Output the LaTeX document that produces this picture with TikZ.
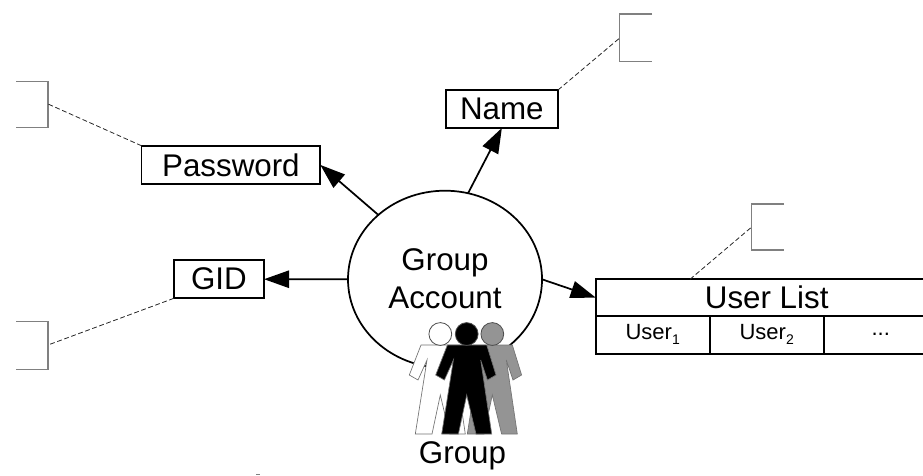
\documentclass[tikz,border=0pt]{standalone}
\usepackage{fontspec}
\setmainfont{Liberation Sans}
\usetikzlibrary{arrows.meta,shapes.geometric}
\newcommand{\bigtxt}{\fontsize{23.5}{28.5}\selectfont}
\newcommand{\smalltxt}{\fontsize{16.5}{20}\selectfont}
\newcommand{\subtxt}[1]{\raisebox{-0.22em}{\fontsize{10.5}{12}\selectfont #1}}
\tikzset{
  x=0.75pt,y=-0.75pt,
  box/.style={draw=black,line width=1.3pt,fill=white,inner sep=0pt,outer sep=0pt,font=\bigtxt,align=center},
  cell/.style={box,font=\smalltxt,minimum width=114*0.75pt,minimum height=37.7*0.75pt},
  flow/.style={draw=black,line width=1.3pt,-{Triangle[length=18.75pt,width=13pt]}},
  note/.style={draw=black!85,line width=0.6pt,dash pattern=on 3.6pt off 2pt},
  brk/.style={draw=black!50,line width=1pt},
  person/.pic={
    \path[draw=black!55,line width=0.5pt,fill=#1]
      (-19.3,11) -- (20,11) -- (29.3,41) -- (20.7,46) -- (14,26) -- (25,100) -- (9.3,100)
      -- (0,61) -- (-8.3,100) -- (-25,100) -- (-13.3,26) -- (-22.3,46) -- (-31,41) -- cycle;
    \path[draw=black!70,line width=0.6pt,fill=#1] (0,0) circle[radius=11.4];
  }
}
\begin{document}
\begin{tikzpicture}
\useasboundingbox (0,0) rectangle (923,475);
\clip (0,0) rectangle (923,475);
% annotation brackets
\coordinate (b1) at (48,104);
\coordinate (b2) at (48,345);
\coordinate (b3) at (619.7,38);
\coordinate (b4) at (751.7,227);
\draw[brk] (16,81.7) -| (b1) |- (16,127.3);
\draw[brk] (16,321.7) -| (b2) |- (16,369.7);
\draw[brk] (652,14) -| (b3) |- (652,61.5);
\draw[brk] (784,204) -| (b4) |- (784,250);
% account
\node[draw=black,line width=1.3pt,fill=white,ellipse,inner sep=0pt,outer sep=0pt,minimum width=194*0.75pt,minimum height=177.2*0.75pt] (acct) at (445,279.3) {};
\node[font=\bigtxt,align=center,inner sep=0pt] (acctlabel) at (445,278.5) {Group\\Account};
% attribute boxes
\node[box,minimum width=178.8*0.75pt,minimum height=38.3*0.75pt] (pw) at (230.9,164.9) {Password};
\node[box,minimum width=90.3*0.75pt,minimum height=38.3*0.75pt] (gid) at (218.9,279.2) {GID};
\node[box,minimum width=112.3*0.75pt,minimum height=38*0.75pt] (name) at (501.85,109) {Name};
\node[box,minimum width=342*0.75pt,minimum height=36.7*0.75pt] (ul) at (766.7,297.6) {User List};
\node[cell] (u1) at (652.7,334.8) {User\subtxt{1}};
\node[cell] (u2) at (766.7,334.8) {User\subtxt{2}};
\node[cell] (u3) at (880.7,334.8) {...};
% connectors
\draw[flow] (acct.136.3) -- (pw.east);
\draw[flow] (acct.75) -- (name.south);
\draw[flow] (acct.west) -- (gid.east);
\draw[flow] (acct.east) -- (ul.west);
\draw[note] (pw.north west) -- (b1);
\draw[note] (gid.south west) -- (b2);
\draw[note] (name.north east) -- (b3);
\draw[note] (690,279.3) -- (b4);
% group figures
\pic at (440.3,334) {person=white};
\pic at (492.3,334) {person=black!42};
\pic at (466.7,334) {person=black};
\node[font=\bigtxt,inner sep=0pt,anchor=base] (grp) at (462.5,463) {Group};
\fill[black!50] (256,474) rectangle (260,475);
\end{tikzpicture}
\end{document}
